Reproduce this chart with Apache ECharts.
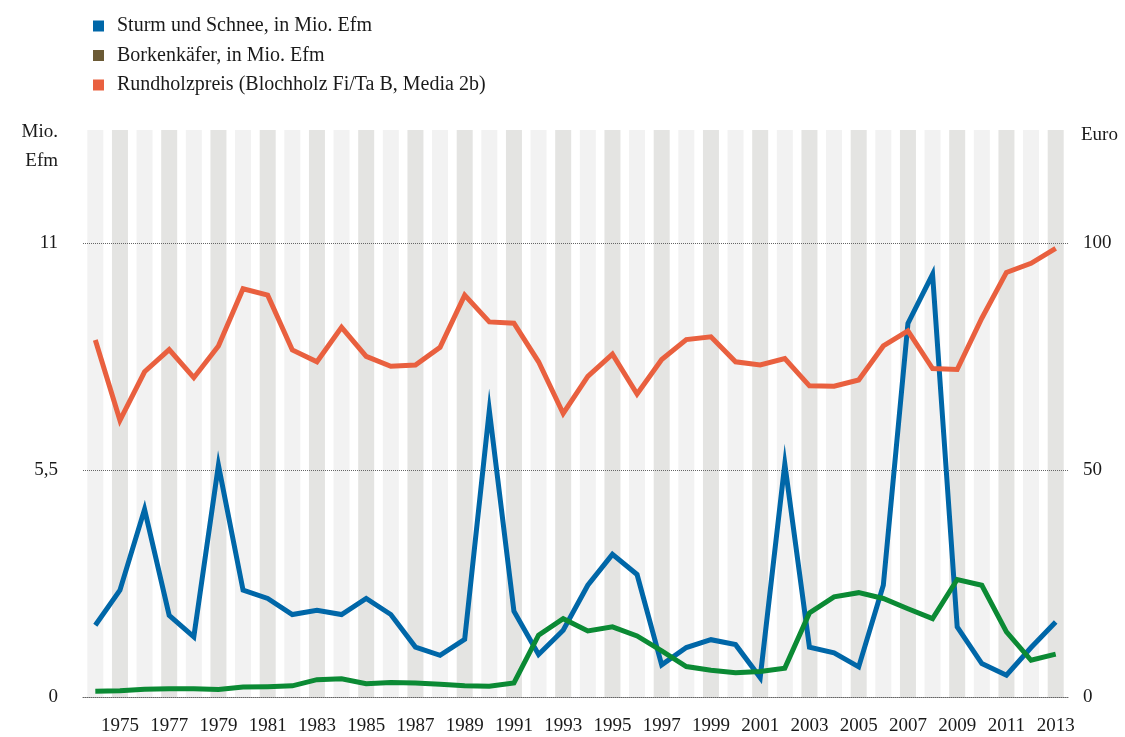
<!DOCTYPE html>
<html>
<head>
<meta charset="utf-8">
<script src="https://cdn.jsdelivr.net/npm/echarts@6/dist/echarts.min.js"></script>
<style>
  html, body { margin: 0; padding: 0; background: #fff; }
  #chart { width: 1125px; height: 737px; }
</style>
</head>
<body>
<div id="chart"></div>
<script>
const years = [
  '1974', '1975', '1976', '1977', '1978', '1979', '1980', '1981', '1982', '1983',
  '1984', '1985', '1986', '1987', '1988', '1989', '1990', '1991', '1992', '1993',
  '1994', '1995', '1996', '1997', '1998', '1999', '2000', '2001', '2002', '2003',
  '2004', '2005', '2006', '2007', '2008', '2009', '2010', '2011', '2012', '2013'
]

// Sturm und Schnee, Mio. Efm
const sturm = [
  1.74, 2.59, 4.55, 1.98, 1.46, 5.62, 2.59, 2.39, 2.0, 2.1,
  2.0, 2.39, 2.0, 1.21, 1.01, 1.40, 6.95, 2.08, 1.03, 1.62,
  2.71, 3.46, 2.97, 0.78, 1.20, 1.39, 1.27, 0.47, 5.65, 1.21,
  1.07, 0.73, 2.71, 9.06, 10.25, 1.70, 0.81, 0.53, 1.20, 1.82
]

// Borkenkäfer, Mio. Efm
const borken = [
  0.14, 0.15, 0.19, 0.20, 0.20, 0.18, 0.24, 0.25, 0.27, 0.42,
  0.44, 0.32, 0.35, 0.34, 0.31, 0.27, 0.26, 0.34, 1.50, 1.90,
  1.60, 1.70, 1.48, 1.12, 0.74, 0.65, 0.59, 0.62, 0.70, 2.04,
  2.43, 2.53, 2.39, 2.14, 1.90, 2.85, 2.71, 1.58, 0.89, 1.04
]

// Rundholzpreis, Euro
const preis = [
  78.7, 61.0, 71.7, 76.6, 70.4, 77.4, 90.0, 88.6, 76.5, 73.9,
  81.5, 75.1, 72.9, 73.2, 77.1, 88.6, 82.7, 82.4, 73.9, 62.5,
  70.7, 75.6, 66.8, 74.4, 78.8, 79.4, 73.9, 73.2, 74.6, 68.6,
  68.5, 69.9, 77.4, 80.7, 72.4, 72.2, 83.5, 93.6, 95.6, 98.9
]

const mioTicks = [0, 5.5, 11]
const euroTicks = [0, 50, 100]
const mioMax = 13.75
const euroMax = 125

const font = '"Liberation Serif", "DejaVu Serif", serif'
const colors = {
  sturm: '#0067a8',
  borken: '#0b8a34',
  borkenLegend: '#6b5a35',
  preis: '#e9603f',
  stripeLight: '#f2f2f2',
  stripeDark: '#e4e4e2',
  text: '#1a1a1a',
  grid: '#666'
}

const dotted = { color: colors.grid, type: [1, 1], width: 1 }

const myChart = echarts.init(document.getElementById('chart'))

const option = {
  animation: false,
  textStyle: { fontFamily: font },
  legend: {
    orient: 'vertical',
    left: 88,
    top: 11,
    itemWidth: 11,
    itemHeight: 11,
    itemGap: 9.5,
    icon: 'rect',
    selectedMode: false,
    textStyle: {
      fontFamily: font,
      fontSize: 20,
      color: colors.text,
      padding: [0, 0, 0, 8]
    },
    data: [
      { name: 'Sturm und Schnee, in Mio. Efm', itemStyle: { color: colors.sturm } },
      { name: 'Borkenkäfer, in Mio. Efm', itemStyle: { color: colors.borkenLegend } },
      { name: 'Rundholzpreis (Blochholz Fi/Ta B, Media 2b)', itemStyle: { color: colors.preis } }
    ]
  },
  grid: {
    left: 83,
    right: 57,
    top: 130,
    bottom: 40
  },
  xAxis: {
    type: 'category',
    data: years,
    boundaryGap: true,
    z: 2,
    axisTick: { show: false },
    axisLine: { lineStyle: dotted },
    axisLabel: {
      interval: (i) => i % 2 === 1,
      margin: 20,
      fontFamily: font,
      fontSize: 19,
      color: colors.text
    }
  },
  yAxis: [{
    type: 'value',
    min: 0,
    max: mioMax,
    interval: 5.5,
    z: 2,
    name: 'Mio.\nEfm',
    nameLocation: 'end',
    nameGap: 12,
    nameTextStyle: {
      fontFamily: font,
      fontSize: 19,
      color: colors.text,
      align: 'right',
      verticalAlign: 'top',
      lineHeight: 29,
      padding: [0, 25, 0, 0]
    },
    axisLine: { show: false },
    axisTick: { show: false },
    axisLabel: {
      margin: 25,
      fontFamily: font,
      fontSize: 19,
      color: colors.text,
      showMaxLabel: false,
      formatter: (v) => mioTicks.includes(v) ? String(v).replace('.', ',') : ''
    },
    splitLine: {
      show: true,
      showMinLine: false,
      showMaxLine: false,
      lineStyle: dotted
    }
  }, {
    type: 'value',
    min: 0,
    max: euroMax,
    interval: 50,
    z: 2,
    name: 'Euro',
    nameLocation: 'end',
    nameGap: 4,
    nameTextStyle: {
      fontFamily: font,
      fontSize: 19,
      color: colors.text,
      align: 'left',
      verticalAlign: 'top',
      padding: [0, 0, 0, 13]
    },
    axisLine: { show: false },
    axisTick: { show: false },
    axisLabel: {
      margin: 15,
      fontFamily: font,
      fontSize: 19,
      color: colors.text,
      showMaxLabel: false,
      formatter: (v) => euroTicks.includes(v) ? String(v) : ''
    },
    splitLine: { show: false }
  }],
  series: [{
    // background stripes, one per year, reaching the top of the plot
    name: 'stripes',
    type: 'bar',
    silent: true,
    barWidth: 16,
    yAxisIndex: 0,
    z: 1,
    data: years.map((y, i) => ({
      value: mioMax,
      itemStyle: { color: i % 2 === 0 ? colors.stripeLight : colors.stripeDark }
    }))
  }, {
    name: 'Sturm und Schnee, in Mio. Efm',
    type: 'line',
    yAxisIndex: 0,
    data: sturm,
    showSymbol: false,
    color: colors.sturm,
    lineStyle: { width: 5, color: colors.sturm, join: 'miter' },
    z: 3
  }, {
    name: 'Borkenkäfer, in Mio. Efm',
    type: 'line',
    yAxisIndex: 0,
    data: borken,
    showSymbol: false,
    color: colors.borken,
    lineStyle: { width: 5, color: colors.borken, join: 'miter' },
    z: 4
  }, {
    name: 'Rundholzpreis (Blochholz Fi/Ta B, Media 2b)',
    type: 'line',
    yAxisIndex: 1,
    data: preis,
    showSymbol: false,
    color: colors.preis,
    lineStyle: { width: 5, color: colors.preis, join: 'miter' },
    z: 5
  }]
}

myChart.setOption(option)

window.addEventListener('resize', () => {
  myChart.resize()
})
</script>
</body>
</html>
